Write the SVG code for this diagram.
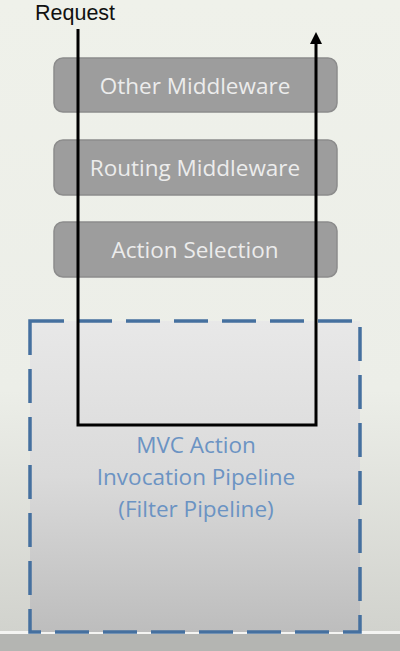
<svg xmlns="http://www.w3.org/2000/svg" width="400" height="651" viewBox="0 0 400 651">
<defs>
<linearGradient id="bg" x1="0" y1="0" x2="0" y2="1">
<stop offset="0" stop-color="#eff1ea"/>
<stop offset="0.6" stop-color="#eceee8"/>
<stop offset="1" stop-color="#cfd0cb"/>
</linearGradient>
<linearGradient id="pipe" x1="0" y1="0" x2="0" y2="1">
<stop offset="0" stop-color="#e8e8e8"/>
<stop offset="0.5" stop-color="#dadada"/>
<stop offset="1" stop-color="#bdbdbd"/>
</linearGradient>
<marker id="arrow" markerWidth="12" markerHeight="12" refX="4" refY="6" orient="auto" markerUnits="userSpaceOnUse" viewBox="0 0 12 12">
<path d="M0,0 L12,6 L0,12 Z" fill="#000"/>
</marker>
<style>
.box{fill:#9d9d9d;stroke:#8c8c8c;stroke-width:1.5}
.lbl{font-family:"Open Sans","Liberation Sans",sans-serif;font-size:22.5px;fill:#ececec;text-anchor:middle}
.blue{font-family:"Open Sans","Liberation Sans",sans-serif;font-size:22.5px;fill:#6b93c3;text-anchor:middle}
.flow{fill:none;stroke:#000;stroke-width:3}
</style>
</defs>
<rect width="400" height="651" fill="url(#bg)"/>
<rect x="0" y="632" width="400" height="19" fill="#b4b5b2"/>
<rect x="0" y="631" width="400" height="3" fill="#f4f4f2"/>
<g id="pipeline">
<rect x="30" y="321" width="330" height="311" fill="url(#pipe)" stroke="#45709f" stroke-width="3.5" stroke-dasharray="34 14"/>
<text class="blue" x="196" y="453">MVC Action</text>
<text class="blue" x="196" y="485">Invocation Pipeline</text>
<text class="blue" x="196" y="517">(Filter Pipeline)</text>
</g>
<g id="other-middleware">
<rect class="box" x="54" y="58" width="283" height="54" rx="9"/>
<text class="lbl" x="195" y="94">Other Middleware</text>
</g>
<g id="routing-middleware">
<rect class="box" x="54" y="140" width="283" height="55" rx="9"/>
<text class="lbl" x="195" y="176">Routing Middleware</text>
</g>
<g id="action-selection">
<rect class="box" x="54" y="222" width="283" height="55" rx="9"/>
<text class="lbl" x="195" y="258">Action Selection</text>
</g>
<g id="request">
<text x="35" y="20" font-family="'Liberation Sans',Arial,sans-serif" font-size="21.5" fill="#111">Request</text>
</g>
<g id="connectors">
<path class="flow" d="M78,29 L78,425 L316,425 L316,40" marker-end="url(#arrow)"/>
</g>
</svg>
